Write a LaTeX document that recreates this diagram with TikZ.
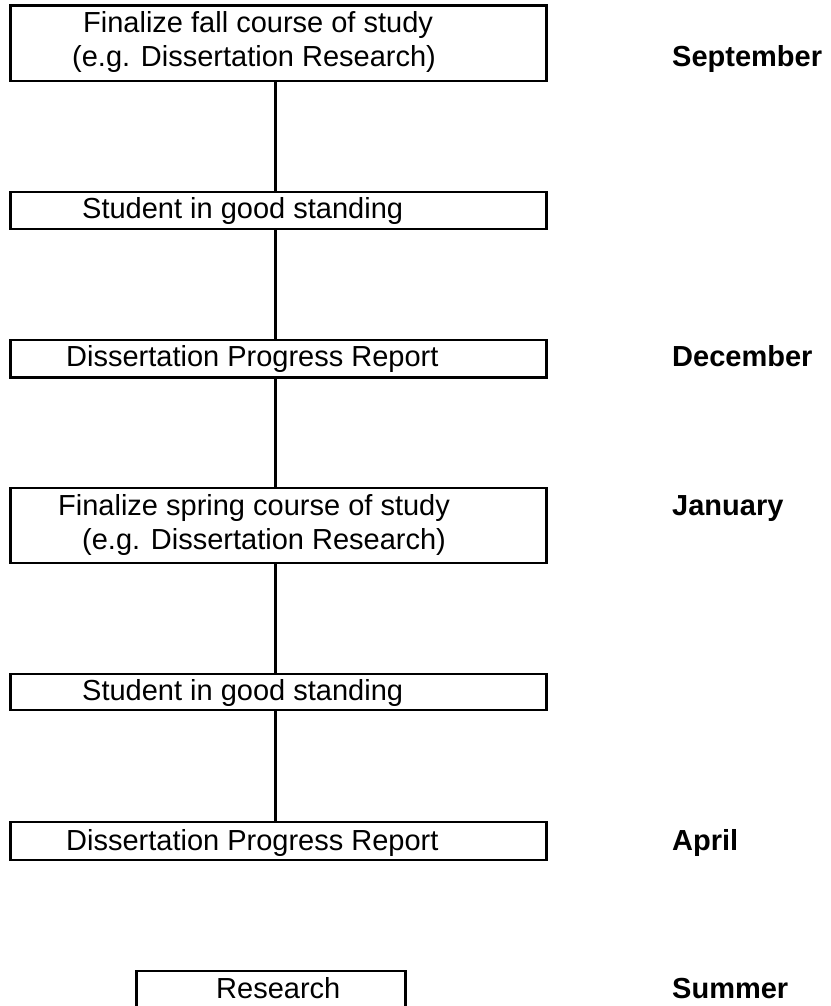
\documentclass[tikz,border=0pt]{standalone}
\usepackage{fontspec}
\setmainfont{Liberation Sans}
\begin{document}
\begin{tikzpicture}[x=1pt,y=-1pt,
  box/.style={draw=black, line width=2.8pt, rectangle, inner sep=0pt, minimum width=536.2pt},
  conn/.style={draw=black, line width=2.8pt},
  txt/.style={anchor=base west, inner sep=0pt, font=\fontsize{29}{34}\selectfont},
  month/.style={anchor=base west, inner sep=0pt, font=\fontsize{29}{34}\selectfont\bfseries}]
\useasboundingbox (0,0) rectangle (830,1006);
\clip (0,0) rectangle (830,1006);
% boxes
\node[box, minimum height=75.3pt] (b1) at (278.4,43.35) {};
\node[box, minimum height=37pt] (b2) at (278.4,210.5) {};
\node[box, minimum height=37.3pt] (b3) at (278.4,358.6) {};
\node[box, minimum height=75pt] (b4) at (278.4,525.5) {};
\node[box, minimum height=36pt] (b5) at (278.4,692) {};
\node[box, minimum height=38pt] (b6) at (278.4,841) {};
\node[box, minimum width=268.8pt, minimum height=60pt] (b7) at (271.1,1001) {};
% texts
\node[txt] (t1a) at (83,33) {Finalize fall course of study};
\node[txt] (t1b) at (72,67) {(e.g. Dissertation Research)};
\node[txt] (t2) at (82,218) {Student in good standing};
\node[txt] (t3) at (66,366) {Dissertation Progress Report};
\node[txt] (t4a) at (58,515) {Finalize spring course of study};
\node[txt] (t4b) at (82,549) {(e.g. Dissertation Research)};
\node[txt] (t5) at (82,700) {Student in good standing};
\node[txt] (t6) at (66,850) {Dissertation Progress Report};
\node[txt] (t7) at (216,998.7) {Research};
% months
\node[month] (m1) at (672,67) {September};
\node[month] (m2) at (672,366) {December};
\node[month] (m3) at (672,515) {January};
\node[month] (m4) at (672,850) {April};
\node[month] (m5) at (672,998.7) {Summer};
% connectors
\coordinate (cx) at (275.4,0);
\draw[conn] (b1.south -| cx) -- (b2.north -| cx);
\draw[conn] (b2.south -| cx) -- (b3.north -| cx);
\draw[conn] (b3.south -| cx) -- (b4.north -| cx);
\draw[conn] (b4.south -| cx) -- (b5.north -| cx);
\draw[conn] (b5.south -| cx) -- (b6.north -| cx);
\end{tikzpicture}
\end{document}
